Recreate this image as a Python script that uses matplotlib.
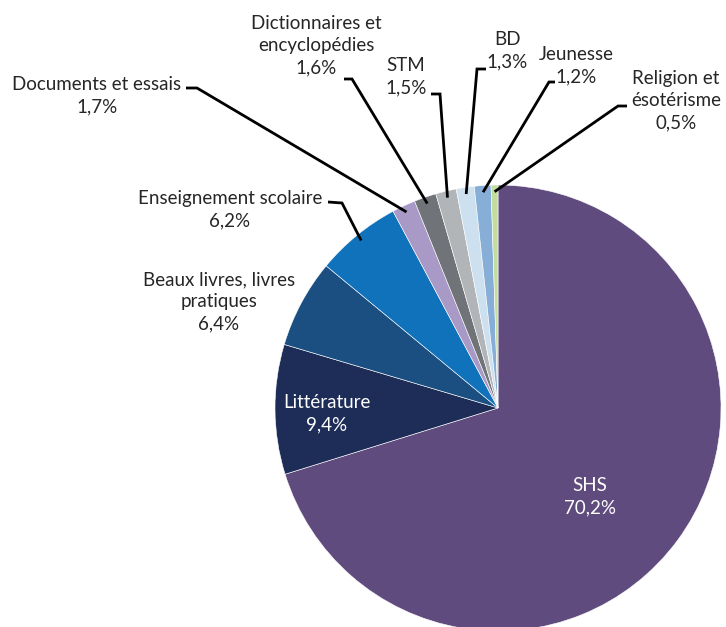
import numpy as np
import matplotlib.pyplot as plt

# Data
labels = ['SHS', 'Littérature', 'Beaux livres, livres\npratiques', 'Enseignement scolaire',
          'Documents et essais', 'Dictionnaires et\nencyclopédies', 'STM', 'BD', 'Jeunesse',
          'Religion et\nésotérisme']
values = [70.2, 9.4, 6.4, 6.2, 1.7, 1.6, 1.5, 1.3, 1.2, 0.5]
colors = ['#5f4b7d', '#1e2d58', '#1b4f82', '#1072bb', '#a899c6', '#707478',
          '#b2b5b7', '#cde0ef', '#86aed6', '#c3dca0']

W, H = 726, 627
plt.rcParams['font.family'] = ['Lato', 'DejaVu Sans']

fig = plt.figure(figsize=(W / 100, H / 100), dpi=100)
ax = fig.add_axes([0, 0, 1, 1])

cx, cy, R = 498, H - 408, 223
explode = [0.03] + [0] * (len(values) - 1)
wedges, _ = ax.pie(values, colors=colors, startangle=90, counterclock=False,
                   center=(cx, cy), radius=R, explode=explode,
                   wedgeprops=dict(edgecolor='white', linewidth=0.4))
ax.set_xlim(0, W)
ax.set_ylim(0, H)
ax.set_aspect('equal')
ax.axis('off')


def fy(y):
    return H - y


fs = 13.5
txt = dict(ha='center', va='center', fontsize=fs, color='#262626', linespacing=1.38)

# label text positions (image pixels) and leader elbows
pct = [f"{v:.1f}".replace('.', ',') + '%' for v in values]
label_pos = {
    0: (590, 497), 1: (327, 414), 2: (219, 302), 3: (230, 210),
    4: (97, 96), 5: (316, 46), 6: (406, 77), 7: (507, 51),
    8: (576, 66), 9: (676, 101),
}
# leader: (horizontal start, elbow) in image px
leaders = {
    3: ((328, 202), (342, 203)),
    4: ((186, 88), (197, 88)),
    5: ((344, 79), (352, 79)),
    6: ((431, 94), (440, 94)),
    7: ((486, 69), (477, 69)),
    8: ((555, 82), (549, 82)),
    9: ((627, 106), (618, 106)),
}

for i, w in enumerate(wedges):
    x, y = label_pos[i]
    s = labels[i] + '\n' + pct[i]
    if i <= 1:
        ax.text(x, fy(y), s, **dict(txt, color='white'))
    else:
        ax.text(x, fy(y), s, **txt)
    if i in leaders:
        mid = np.deg2rad((w.theta1 + w.theta2) / 2)
        ex = cx + R * 0.97 * np.cos(mid)
        ey = cy + R * 0.97 * np.sin(mid)
        (x0, y0), (x1, y1) = leaders[i]
        ax.plot([x0, x1, ex], [fy(y0), fy(y1), ey], color='black', lw=2,
                solid_joinstyle='miter', solid_capstyle='butt')

fig.savefig('out.png', dpi=100)
